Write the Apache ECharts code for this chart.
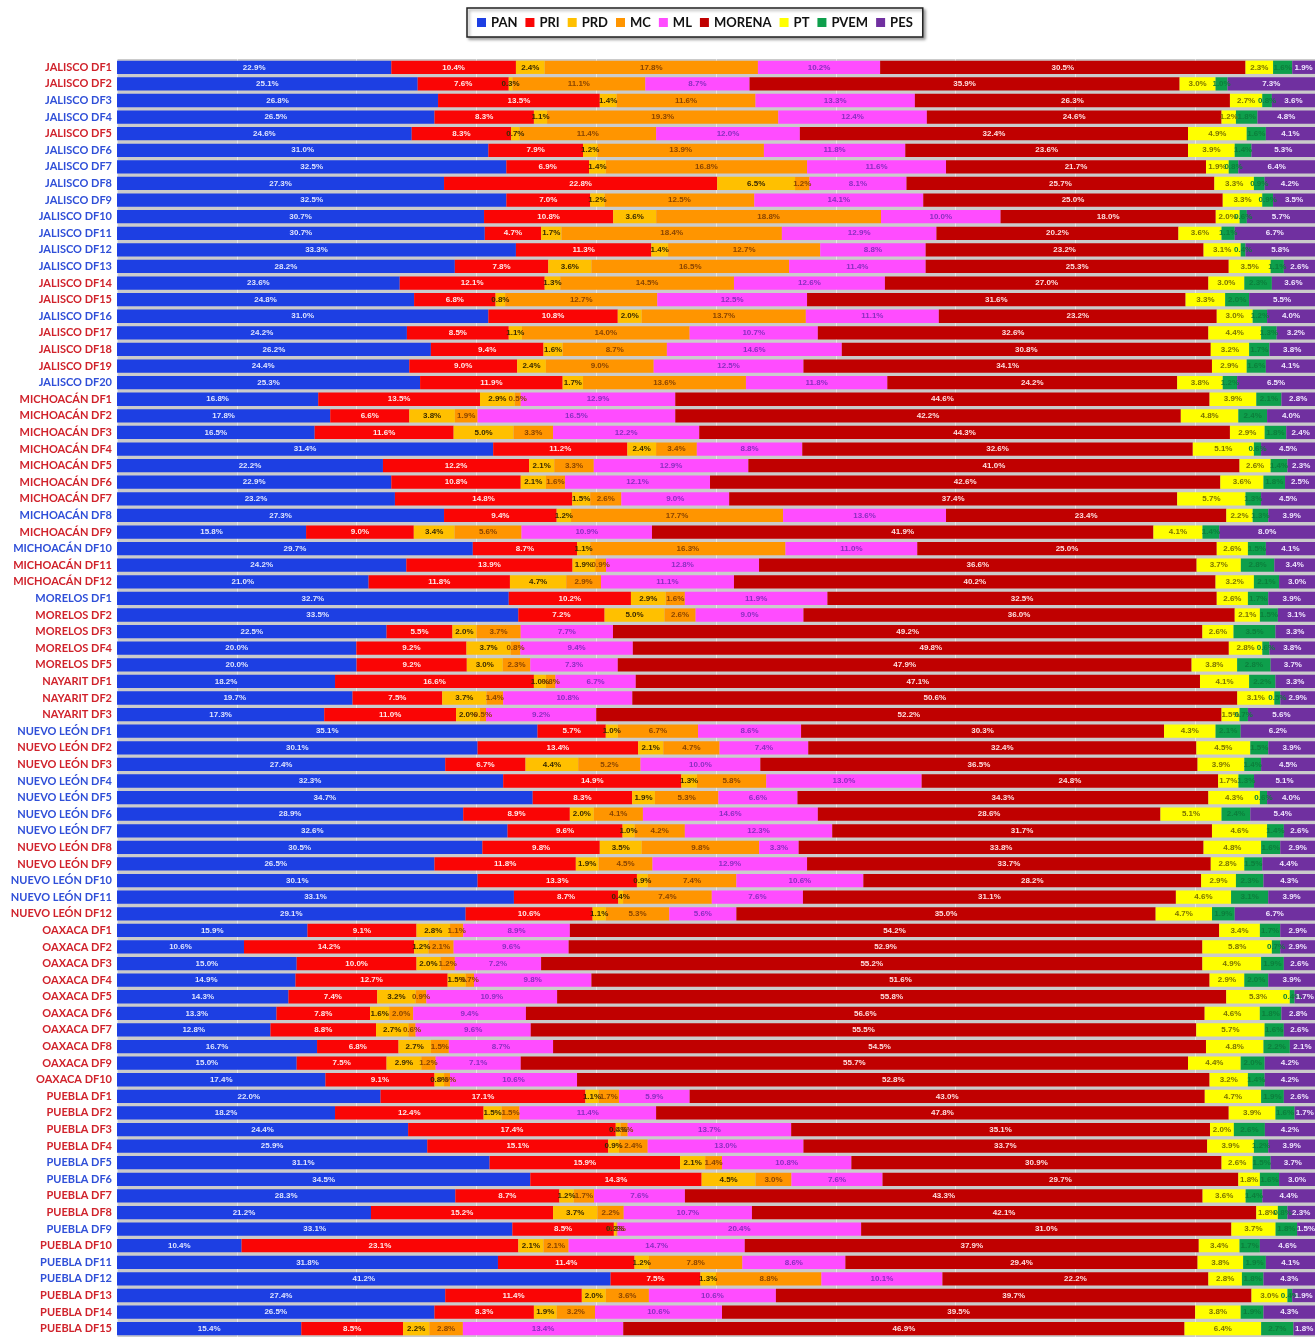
<!DOCTYPE html>
<html>
<head>
<meta charset="utf-8">
<script src="https://cdn.jsdelivr.net/npm/echarts@6/dist/echarts.min.js"></script>
<style>
  html, body { margin: 0; padding: 0; background: #fff; }
  #chart { width: 1315px; height: 1337px; }
</style>
</head>
<body>
<div id="chart"></div>
<script>
var districts = [
    'JALISCO DF1', 'JALISCO DF2', 'JALISCO DF3', 'JALISCO DF4', 'JALISCO DF5', 'JALISCO DF6', 'JALISCO DF7',
    'JALISCO DF8', 'JALISCO DF9', 'JALISCO DF10', 'JALISCO DF11', 'JALISCO DF12', 'JALISCO DF13', 'JALISCO DF14',
    'JALISCO DF15', 'JALISCO DF16', 'JALISCO DF17', 'JALISCO DF18', 'JALISCO DF19', 'JALISCO DF20',
    'MICHOACÁN DF1', 'MICHOACÁN DF2', 'MICHOACÁN DF3', 'MICHOACÁN DF4', 'MICHOACÁN DF5', 'MICHOACÁN DF6',
    'MICHOACÁN DF7', 'MICHOACÁN DF8', 'MICHOACÁN DF9', 'MICHOACÁN DF10', 'MICHOACÁN DF11', 'MICHOACÁN DF12',
    'MORELOS DF1', 'MORELOS DF2', 'MORELOS DF3', 'MORELOS DF4', 'MORELOS DF5',
    'NAYARIT DF1', 'NAYARIT DF2', 'NAYARIT DF3',
    'NUEVO LEÓN DF1', 'NUEVO LEÓN DF2', 'NUEVO LEÓN DF3', 'NUEVO LEÓN DF4', 'NUEVO LEÓN DF5', 'NUEVO LEÓN DF6',
    'NUEVO LEÓN DF7', 'NUEVO LEÓN DF8', 'NUEVO LEÓN DF9', 'NUEVO LEÓN DF10', 'NUEVO LEÓN DF11', 'NUEVO LEÓN DF12',
    'OAXACA DF1', 'OAXACA DF2', 'OAXACA DF3', 'OAXACA DF4', 'OAXACA DF5', 'OAXACA DF6', 'OAXACA DF7',
    'OAXACA DF8', 'OAXACA DF9', 'OAXACA DF10',
    'PUEBLA DF1', 'PUEBLA DF2', 'PUEBLA DF3', 'PUEBLA DF4', 'PUEBLA DF5', 'PUEBLA DF6', 'PUEBLA DF7',
    'PUEBLA DF8', 'PUEBLA DF9', 'PUEBLA DF10', 'PUEBLA DF11', 'PUEBLA DF12', 'PUEBLA DF13', 'PUEBLA DF14', 'PUEBLA DF15'
];

// R = label en rojo, B = label en azul
var labelSide = [
    'R','R','B','B','R','B','B','B','B','B','B','B','B','R','R','B','R','R','R','B',
    'R','R','R','R','R','R','R','B','R','B','R','R',
    'B','R','R','R','R',
    'R','R','R',
    'B','R','R','B','B','B','B','R','R','B','B','R',
    'R','R','R','R','R','R','R','R','R','R',
    'R','R','R','R','B','B','R','R','B','R','B','B','R','R','R'
];

var parties = ['PAN', 'PRI', 'PRD', 'MC', 'ML', 'MORENA', 'PT', 'PVEM', 'PES'];

var pan = [
    22.9, 25.1, 26.8, 26.5, 24.6, 31.0, 32.5, 27.3, 32.5, 30.7, 30.7, 33.3, 28.2, 23.6, 24.8, 31.0, 24.2, 26.2, 24.4, 25.3,
    16.8, 17.8, 16.5, 31.4, 22.2, 22.9, 23.2, 27.3, 15.8, 29.7, 24.2, 21.0,
    32.7, 33.5, 22.5, 20.0, 20.0,
    18.2, 19.7, 17.3,
    35.1, 30.1, 27.4, 32.3, 34.7, 28.9, 32.6, 30.5, 26.5, 30.1, 33.1, 29.1,
    15.9, 10.6, 15.0, 14.9, 14.3, 13.3, 12.8, 16.7, 15.0, 17.4,
    22.0, 18.2, 24.4, 25.9, 31.1, 34.5, 28.3, 21.2, 33.1, 10.4, 31.8, 41.2, 27.4, 26.5, 15.4
];
var pri = [
    10.4, 7.6, 13.5, 8.3, 8.3, 7.9, 6.9, 22.8, 7.0, 10.8, 4.7, 11.3, 7.8, 12.1, 6.8, 10.8, 8.5, 9.4, 9.0, 11.9,
    13.5, 6.6, 11.6, 11.2, 12.2, 10.8, 14.8, 9.4, 9.0, 8.7, 13.9, 11.8,
    10.2, 7.2, 5.5, 9.2, 9.2,
    16.6, 7.5, 11.0,
    5.7, 13.4, 6.7, 14.9, 8.3, 8.9, 9.6, 9.8, 11.8, 13.3, 8.7, 10.6,
    9.1, 14.2, 10.0, 12.7, 7.4, 7.8, 8.8, 6.8, 7.5, 9.1,
    17.1, 12.4, 17.4, 15.1, 15.9, 14.3, 8.7, 15.2, 8.5, 23.1, 11.4, 7.5, 11.4, 8.3, 8.5
];
var prd = [
    2.4, 0.3, 1.4, 1.1, 0.7, 1.2, 1.4, 6.5, 1.2, 3.6, 1.7, 1.4, 3.6, 1.3, 0.8, 2.0, 1.1, 1.6, 2.4, 1.7,
    2.9, 3.8, 5.0, 2.4, 2.1, 2.1, 1.5, 1.2, 3.4, 1.1, 1.9, 4.7,
    2.9, 5.0, 2.0, 3.7, 3.0,
    1.0, 3.7, 2.0,
    1.0, 2.1, 4.4, 1.3, 1.9, 2.0, 1.0, 3.5, 1.9, 0.9, 0.4, 1.1,
    2.8, 1.2, 2.0, 1.5, 3.2, 1.6, 2.7, 2.7, 2.9, 0.8,
    1.1, 1.5, 0.4, 0.9, 2.1, 4.5, 1.2, 3.7, 0.2, 2.1, 1.2, 1.3, 2.0, 1.9, 2.2
];
var mc = [
    17.8, 11.1, 11.6, 19.3, 11.4, 13.9, 16.8, 1.2, 12.5, 18.8, 18.4, 12.7, 16.5, 14.5, 12.7, 13.7, 14.0, 8.7, 9.0, 13.6,
    0.5, 1.9, 3.3, 3.4, 3.3, 1.6, 2.6, 17.7, 5.6, 16.3, 0.9, 2.9,
    1.6, 2.6, 3.7, 0.8, 2.3,
    0.8, 1.4, 0.5,
    6.7, 4.7, 5.2, 5.8, 5.3, 4.1, 4.2, 9.8, 4.5, 7.4, 7.4, 5.3,
    1.1, 2.1, 1.2, 0.7, 0.9, 2.0, 0.6, 1.5, 1.2, 0.5,
    1.7, 1.5, 0.6, 2.4, 1.4, 3.0, 1.7, 2.2, 0.1, 2.1, 7.8, 8.8, 3.6, 3.2, 2.8
];
var ml = [
    10.2, 8.7, 13.3, 12.4, 12.0, 11.8, 11.6, 8.1, 14.1, 10.0, 12.9, 8.8, 11.4, 12.6, 12.5, 11.1, 10.7, 14.6, 12.5, 11.8,
    12.9, 16.5, 12.2, 8.8, 12.9, 12.1, 9.0, 13.6, 10.9, 11.0, 12.8, 11.1,
    11.9, 9.0, 7.7, 9.4, 7.3,
    6.7, 10.8, 9.2,
    8.6, 7.4, 10.0, 13.0, 6.6, 14.6, 12.3, 3.3, 12.9, 10.6, 7.6, 5.6,
    8.9, 9.6, 7.2, 9.8, 10.9, 9.4, 9.6, 8.7, 7.1, 10.6,
    5.9, 11.4, 13.7, 13.0, 10.8, 7.6, 7.6, 10.7, 20.4, 14.7, 8.6, 10.1, 10.6, 10.6, 13.4
];
var morena = [
    30.5, 35.9, 26.3, 24.6, 32.4, 23.6, 21.7, 25.7, 25.0, 18.0, 20.2, 23.2, 25.3, 27.0, 31.6, 23.2, 32.6, 30.8, 34.1, 24.2,
    44.6, 42.2, 44.3, 32.6, 41.0, 42.6, 37.4, 23.4, 41.9, 25.0, 36.6, 40.2,
    32.5, 36.0, 49.2, 49.8, 47.9,
    47.1, 50.6, 52.2,
    30.3, 32.4, 36.5, 24.8, 34.3, 28.6, 31.7, 33.8, 33.7, 28.2, 31.1, 35.0,
    54.2, 52.9, 55.2, 51.6, 55.8, 56.6, 55.5, 54.5, 55.7, 52.8,
    43.0, 47.8, 35.1, 33.7, 30.9, 29.7, 43.3, 42.1, 31.0, 37.9, 29.4, 22.2, 39.7, 39.5, 46.9
];
var pt = [
    2.3, 3.0, 2.7, 1.2, 4.9, 3.9, 1.9, 3.3, 3.3, 2.0, 3.6, 3.1, 3.5, 3.0, 3.3, 3.0, 4.4, 3.2, 2.9, 3.8,
    3.9, 4.8, 2.9, 5.1, 2.6, 3.6, 5.7, 2.2, 4.1, 2.6, 3.7, 3.2,
    2.6, 2.1, 2.6, 2.8, 3.8,
    4.1, 3.1, 1.5,
    4.3, 4.5, 3.9, 1.7, 4.3, 5.1, 4.6, 4.8, 2.8, 2.9, 4.6, 4.7,
    3.4, 5.8, 4.9, 2.9, 5.3, 4.6, 5.7, 4.8, 4.4, 3.2,
    4.7, 3.9, 2.0, 3.9, 2.6, 1.8, 3.6, 1.8, 3.7, 3.4, 3.8, 2.8, 3.0, 3.8, 6.4
];
var pvem = [
    1.6, 1.0, 0.8, 1.8, 1.6, 1.4, 0.8, 0.9, 0.9, 0.6, 1.1, 0.4, 1.1, 2.3, 2.0, 1.2, 1.3, 1.7, 1.6, 1.2,
    2.1, 2.4, 1.8, 0.6, 1.4, 1.8, 1.3, 1.3, 1.4, 1.5, 2.8, 2.1,
    1.7, 1.5, 3.5, 0.6, 2.8,
    2.2, 0.5, 0.7,
    2.1, 1.5, 1.4, 1.3, 0.6, 2.4, 1.4, 1.6, 1.5, 2.3, 3.1, 1.9,
    1.7, 0.7, 1.9, 2.0, 0.4, 1.8, 1.6, 2.2, 2.0, 1.4,
    1.9, 1.6, 2.6, 1.2, 1.5, 1.6, 1.4, 0.8, 1.8, 1.7, 1.9, 1.8, 0.4, 1.9, 2.7
];
var pes = [
    1.9, 7.3, 3.6, 4.8, 4.1, 5.3, 6.4, 4.2, 3.5, 5.7, 6.7, 5.8, 2.6, 3.6, 5.5, 4.0, 3.2, 3.8, 4.1, 6.5,
    2.8, 4.0, 2.4, 4.5, 2.3, 2.5, 4.5, 3.9, 8.0, 4.1, 3.4, 3.0,
    3.9, 3.1, 3.3, 3.8, 3.7,
    3.3, 2.9, 5.6,
    6.2, 3.9, 4.5, 5.1, 4.0, 5.4, 2.6, 2.9, 4.4, 4.3, 3.9, 6.7,
    2.9, 2.9, 2.6, 3.9, 1.7, 2.8, 2.6, 2.1, 4.2, 4.2,
    2.6, 1.7, 4.2, 3.9, 3.7, 3.0, 4.4, 2.3, 1.5, 4.6, 4.1, 4.3, 1.9, 4.3, 1.8
];

var raw = [pan, pri, prd, mc, ml, morena, pt, pvem, pes];
var barColors = ['#1d3fe3', '#fa0505', '#ffc000', '#ff9500', '#ff4cff', '#c00000', '#ffff00', '#0e9f4c', '#7030a0'];
var labelColors = ['#dfe4ff', '#ffe8e8', '#3a2a00', '#8a4500', '#8a2fc0', '#ffdede', '#7c7400', '#0c7f3c', '#f0e6ff'];

var chart = echarts.init(document.getElementById('chart'));

// barra 100% apilada: cada fila se normaliza a su total
var totals = districts.map(function (d, i) {
    var s = 0;
    raw.forEach(function (arr) { s += arr[i]; });
    return s;
});

var series = parties.map(function (name, k) {
    return {
        name: name,
        type: 'bar',
        stack: 'total',
        barCategoryGap: '20%',
        itemStyle: { color: barColors[k] },
        label: {
            show: true,
            position: 'inside',
            fontSize: 8,
            fontWeight: 'bold',
            fontFamily: 'Liberation Sans',
            color: labelColors[k],
            formatter: function (p) {
                return raw[k][p.dataIndex].toFixed(1) + '%';
            }
        },
        data: raw[k].map(function (v, i) { return v / totals[i] * 100; })
    };
});

var option = {
    backgroundColor: '#ffffff',
    animation: false,
    legend: {
        data: parties,
        top: 8,
        left: 467,
        icon: 'rect',
        itemWidth: 9,
        itemHeight: 9,
        itemGap: 8,
        padding: [8, 10],
        borderColor: '#222',
        borderWidth: 1.5,
        backgroundColor: '#fff',
        shadowColor: 'rgba(0,0,0,0.35)',
        shadowBlur: 3,
        shadowOffsetX: 2,
        shadowOffsetY: 2,
        textStyle: { fontSize: 13, fontWeight: 'bold', color: '#111', fontFamily: 'Lato' }
    },
    grid: {
        left: 117,
        right: 0,
        top: 59,
        height: 1281,
        show: true,
        backgroundColor: '#cbcbcb',
        borderWidth: 0
    },
    xAxis: {
        type: 'value',
        min: 0,
        max: 100,
        interval: 10,
        axisLabel: { show: false },
        axisTick: { show: false },
        axisLine: { show: false },
        splitLine: { show: true, lineStyle: { color: '#e6e6e6', width: 1 } }
    },
    yAxis: {
        type: 'category',
        inverse: true,
        data: districts,
        axisTick: { show: false },
        axisLine: { show: false },
        axisLabel: {
            margin: 5,
            interval: 0,
            formatter: function (v, i) {
                return (labelSide[i] === 'B' ? '{b|' : '{r|') + v + '}';
            },
            rich: {
                r: { color: '#d0222b', fontSize: 11, fontWeight: 'bold', fontFamily: 'Lato' },
                b: { color: '#2f4fd8', fontSize: 11, fontWeight: 'bold', fontFamily: 'Lato' }
            }
        }
    },
    series: series
};

chart.setOption(option);
</script>
</body>
</html>
